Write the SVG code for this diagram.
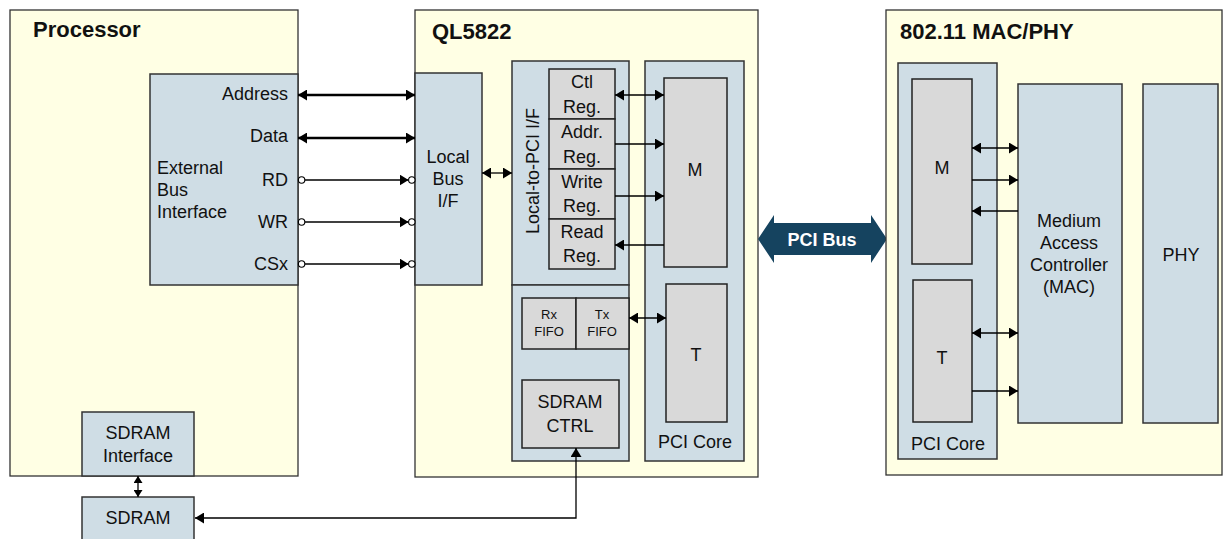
<svg xmlns="http://www.w3.org/2000/svg" width="1223" height="539" viewBox="0 0 1223 539">
<style>
text{font-family:"Liberation Sans",Arial,sans-serif;font-size:18px;fill:#111}
.title{font-weight:bold;font-size:22px}
.mid{text-anchor:middle}
.end{text-anchor:end}
.small{font-size:13px}
.outer{fill:#FFFFE4;stroke:#333;stroke-width:1.3}
.blue{fill:#CFDDE5;stroke:#333;stroke-width:1.5}
.grey{fill:#D9D9D9;stroke:#222;stroke-width:1.5}
.ln{stroke:#000;stroke-width:1.3;fill:none}
.thick{stroke:#000;stroke-width:2.6;fill:none}
.dot{fill:#fff;stroke:#000;stroke-width:1.1}
</style>
<defs>
<marker id="ah" markerUnits="userSpaceOnUse" markerWidth="9" markerHeight="11" refX="9" refY="5.5" orient="auto-start-reverse"><path d="M0,0 L9,5.5 L0,11 z" fill="#000"/></marker>
<marker id="ahs" markerUnits="userSpaceOnUse" markerWidth="7" markerHeight="9" refX="7" refY="4.5" orient="auto-start-reverse"><path d="M0,0 L7,4.5 L0,9 z" fill="#000"/></marker>
</defs>
<rect width="1223" height="539" fill="#fff"/>

<g id="processor">
<rect class="outer" x="10" y="10" width="288" height="466"/>
<text class="title" x="33" y="37">Processor</text>
</g>
<g id="ext-bus-if">
<rect class="blue" x="150" y="74" width="148" height="211"/>
<text class="end" x="288" y="100">Address</text>
<text class="end" x="288" y="142">Data</text>
<text class="end" x="288" y="186">RD</text>
<text class="end" x="288" y="228">WR</text>
<text class="end" x="288" y="270">CSx</text>
<text x="157" y="174">External</text>
<text x="157" y="196">Bus</text>
<text x="157" y="218">Interface</text>
</g>
<g id="sdram-if">
<rect class="blue" x="82" y="412" width="112" height="64"/>
<text class="mid" x="138" y="439">SDRAM</text>
<text class="mid" x="138" y="462">Interface</text>
</g>
<g id="sdram">
<rect class="blue" x="82" y="497" width="112" height="50"/>
<text class="mid" x="138" y="524">SDRAM</text>
</g>

<g id="ql5822">
<rect class="outer" x="415" y="10" width="343" height="467"/>
<text class="title" x="432" y="39">QL5822</text>
</g>
<g id="local-bus-if">
<rect class="blue" x="415" y="73" width="67" height="212"/>
<text class="mid" x="448" y="163">Local</text>
<text class="mid" x="448" y="185">Bus</text>
<text class="mid" x="448" y="207">I/F</text>
</g>
<g id="local-to-pci">
<rect class="blue" x="512" y="61" width="117" height="224"/>
<text class="mid" transform="translate(539,171) rotate(-90)">Local-to-PCI I/F</text>
</g>
<g id="fifo-block">
<rect class="blue" x="512" y="285" width="117" height="176"/>
</g>
<g id="ctl-reg"><rect class="grey" x="549" y="69" width="66" height="50"/><text class="mid" x="582" y="88">Ctl</text><text class="mid" x="582" y="113">Reg.</text></g>
<g id="addr-reg"><rect class="grey" x="549" y="119" width="66" height="50"/><text class="mid" x="582" y="138">Addr.</text><text class="mid" x="582" y="163">Reg.</text></g>
<g id="write-reg"><rect class="grey" x="549" y="169" width="66" height="50"/><text class="mid" x="582" y="188">Write</text><text class="mid" x="582" y="212">Reg.</text></g>
<g id="read-reg"><rect class="grey" x="549" y="219" width="66" height="50"/><text class="mid" x="582" y="238">Read</text><text class="mid" x="582" y="262">Reg.</text></g>
<g id="rx-fifo"><rect class="grey" x="522" y="298" width="54" height="51"/><text class="mid small" x="549" y="319">Rx</text><text class="mid small" x="549" y="336">FIFO</text></g>
<g id="tx-fifo"><rect class="grey" x="576" y="298" width="53" height="51"/><text class="mid small" x="602" y="319">Tx</text><text class="mid small" x="602" y="336">FIFO</text></g>
<g id="sdram-ctrl"><rect class="grey" x="522" y="380" width="97" height="68"/><text class="mid" x="570" y="408">SDRAM</text><text class="mid" x="570" y="432">CTRL</text></g>
<g id="ql-pci-core">
<rect class="blue" x="645" y="61" width="99" height="400"/>
<text class="mid" x="695" y="448">PCI Core</text>
</g>
<g id="ql-m"><rect class="grey" x="664" y="78" width="63" height="189"/><text class="mid" x="695" y="176">M</text></g>
<g id="ql-t"><rect class="grey" x="666" y="284" width="61" height="138"/><text class="mid" x="696" y="361">T</text></g>

<g id="pci-bus">
<path d="M758,239 L774,215 L774,223 L871,223 L871,215 L887,239 L871,263 L871,255 L774,255 L774,263 z" fill="#15435F"/>
<text class="mid" x="822" y="246" style="fill:#fff;font-weight:bold;font-size:18px">PCI Bus</text>
</g>

<g id="mac-phy">
<rect class="outer" x="886" y="10" width="336" height="465"/>
<text class="title" x="900" y="39">802.11 MAC/PHY</text>
</g>
<g id="mac-pci-core">
<rect class="blue" x="898" y="63" width="99" height="396"/>
<text class="mid" x="948" y="450">PCI Core</text>
</g>
<g id="mac-m"><rect class="grey" x="912" y="79" width="60" height="185"/><text class="mid" x="942" y="174">M</text></g>
<g id="mac-t"><rect class="grey" x="913" y="280" width="59" height="142"/><text class="mid" x="942" y="364">T</text></g>
<g id="mac">
<rect class="blue" x="1018" y="84" width="104" height="339"/>
<text class="mid" x="1069" y="227">Medium</text>
<text class="mid" x="1069" y="249">Access</text>
<text class="mid" x="1069" y="271">Controller</text>
<text class="mid" x="1069" y="293">(MAC)</text>
</g>
<g id="phy">
<rect class="blue" x="1143" y="84" width="75" height="339"/>
<text class="mid" x="1181" y="261">PHY</text>
</g>

<g id="connectors">
<line class="thick" x1="298" y1="95" x2="415" y2="95" marker-start="url(#ah)" marker-end="url(#ah)"/>
<line class="thick" x1="298" y1="138" x2="415" y2="138" marker-start="url(#ah)" marker-end="url(#ah)"/>
<line class="ln" x1="304.8" y1="180" x2="408.6" y2="180" marker-end="url(#ah)"/>
<line class="ln" x1="304.8" y1="222" x2="408.6" y2="222" marker-end="url(#ah)"/>
<line class="ln" x1="304.8" y1="264" x2="408.6" y2="264" marker-end="url(#ah)"/>
<circle class="dot" cx="301.6" cy="180" r="3.2"/><circle class="dot" cx="411.8" cy="180" r="3.2"/>
<circle class="dot" cx="301.6" cy="222" r="3.2"/><circle class="dot" cx="411.8" cy="222" r="3.2"/>
<circle class="dot" cx="301.6" cy="264" r="3.2"/><circle class="dot" cx="411.8" cy="264" r="3.2"/>
<line class="ln" x1="482" y1="173" x2="512" y2="173" marker-start="url(#ah)" marker-end="url(#ah)"/>
<line class="ln" x1="615" y1="95" x2="664" y2="95" marker-start="url(#ah)" marker-end="url(#ah)"/>
<line class="ln" x1="615" y1="144" x2="664" y2="144" marker-end="url(#ah)"/>
<line class="ln" x1="615" y1="196" x2="664" y2="196" marker-end="url(#ah)"/>
<line class="ln" x1="664" y1="245" x2="615" y2="245" marker-end="url(#ah)"/>
<line class="ln" x1="629" y1="318" x2="666" y2="318" marker-start="url(#ah)" marker-end="url(#ah)"/>
<line class="ln" x1="972" y1="148" x2="1018" y2="148" marker-start="url(#ah)" marker-end="url(#ah)"/>
<line class="ln" x1="972" y1="180" x2="1018" y2="180" marker-end="url(#ah)"/>
<line class="ln" x1="1018" y1="211" x2="972" y2="211" marker-end="url(#ah)"/>
<line class="ln" x1="972" y1="333" x2="1018" y2="333" marker-start="url(#ah)" marker-end="url(#ah)"/>
<line class="ln" x1="972" y1="391" x2="1018" y2="391" marker-end="url(#ah)"/>
<line class="ln" x1="138" y1="476" x2="138" y2="497" marker-start="url(#ahs)" marker-end="url(#ahs)"/>
<polyline class="ln" points="576,448 576,518 195,518" marker-start="url(#ah)" marker-end="url(#ah)"/>
</g>
</svg>
